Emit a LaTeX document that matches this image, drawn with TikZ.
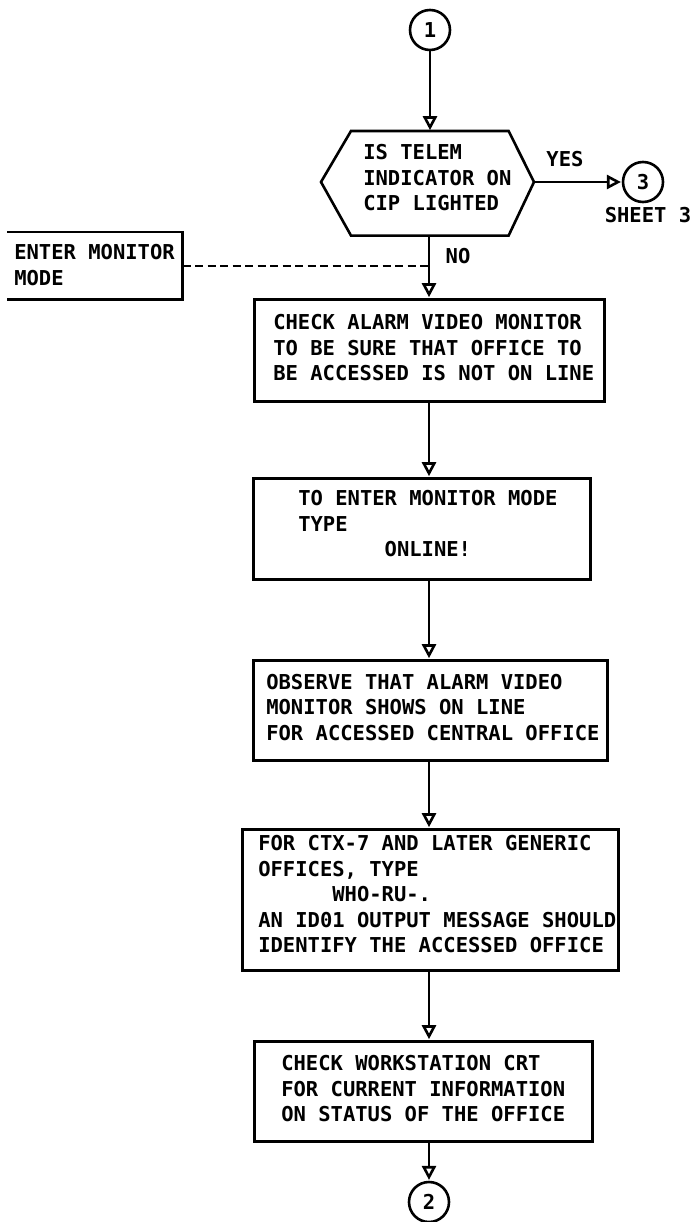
\documentclass[tikz,border=0pt]{standalone}
\usepackage{fontspec}
\newfontfamily\plotfont{DejaVu Sans Mono}
\usetikzlibrary{arrows.meta}

\tikzset{
  lbl/.style={font=\plotfont\bfseries\fontsize{20.5}{25.5}\selectfont, inner sep=0pt, align=left},
  stepbox/.style={draw, rectangle, inner sep=0pt, anchor=north west},
  conn/.style={circle, draw, minimum size=40pt, inner sep=0pt,
               font=\plotfont\bfseries\fontsize{20.5}{25.5}\selectfont},
  flow/.style={-{Triangle[open, length=14pt, width=14pt, line width=2.6pt]}, shorten >=0.8pt},
  link/.style={dashed, dash pattern=on 8pt off 4.5pt, line width=2.2pt}
}

\begin{document}
\begin{tikzpicture}[x=1pt, y=-1pt, line width=2.6pt]
  \useasboundingbox (0,0) rectangle (694,1222);
  \fill[white] (0,0) rectangle (694,1222);

  \coordinate (sp) at (429,0);

  % off-page connector at the top
  \node[conn] (c1) at (430,30) {1};

  % decision
  \node[rectangle, minimum width=155pt, minimum height=102pt, inner sep=0pt, anchor=north west]
        (hex) at (351,131) {};
  \coordinate (hexL) at (321,182);
  \coordinate (hexR) at (534,182);
  \draw[line join=miter] (hex.north west) -- (hex.north east) -- (hexR)
        -- (hex.south east) -- (hex.south west) -- (hexL) -- cycle;
  \node[lbl, anchor=west] (hext) at (362,178) {IS TELEM\\INDICATOR ON\\CIP LIGHTED};

  % yes branch
  \node[conn] (c3) at (643,182) {3};
  \node[lbl] (sheet) at (648,215) {SHEET 3};
  \node[lbl] (yes) at (565,159) {YES};
  \draw[flow] (hexR) -- (c3.west);

  % side note box (open on the left)
  \node[rectangle, minimum width=173pt, minimum height=65pt, inner sep=0pt, anchor=north west]
        (enter) at (7,232) {};
  \draw (enter.north west) -- (enter.north east) -- (enter.south east) -- (enter.south west);
  \node[lbl, anchor=west] (entert) at (13,265) {ENTER MONITOR\\MODE};

  % steps
  \node[stepbox, minimum width=350pt, minimum height=102pt] (b1) at (253,298) {};
  \node[lbl, anchor=west] (t1) at (272,348)
    {CHECK ALARM VIDEO MONITOR\\TO BE SURE THAT OFFICE TO\\BE ACCESSED IS NOT ON LINE};

  \node[stepbox, minimum width=337pt, minimum height=101pt] (b2) at (252,477) {};
  \node[lbl, anchor=west] (t2) at (297,524)
    {TO ENTER MONITOR MODE\\TYPE\\\phantom{0000000}ONLINE!};

  \node[stepbox, minimum width=354pt, minimum height=100pt] (b3) at (252,659) {};
  \node[lbl, anchor=west] (t3) at (265,707.5)
    {OBSERVE THAT ALARM VIDEO\\MONITOR SHOWS ON LINE\\FOR ACCESSED CENTRAL OFFICE};

  \node[stepbox, minimum width=376pt, minimum height=141pt] (b4) at (241,828) {};
  \node[lbl, anchor=west] (t4) at (257,894.5)
    {FOR CTX-7 AND LATER GENERIC\\OFFICES, TYPE\\\phantom{000000}WHO-RU-.\\AN ID01 OUTPUT MESSAGE SHOULD\\IDENTIFY THE ACCESSED OFFICE};

  \node[stepbox, minimum width=338pt, minimum height=100pt] (b5) at (253,1040) {};
  \node[lbl, anchor=west] (t5) at (280,1089)
    {CHECK WORKSTATION CRT\\FOR CURRENT INFORMATION\\ON STATUS OF THE OFFICE};

  % off-page connector at the bottom
  \node[conn] (c2) at (429,1202) {2};

  % connectors
  \draw[flow] (c1.south) -- (c1.south |- hex.north);
  \draw[flow] (hex.south -| sp) -- (b1.north -| sp);
  \node[lbl] (no) at (458,256) {NO};
  \draw[link] (enter.east) -- (enter.east -| sp);
  \draw[flow] (b1.south -| sp) -- (b2.north -| sp);
  \draw[flow] (b2.south -| sp) -- (b3.north -| sp);
  \draw[flow] (b3.south -| sp) -- (b4.north -| sp);
  \draw[flow] (b4.south -| sp) -- (b5.north -| sp);
  \draw[flow] (b5.south -| sp) -- (c2.north);
\end{tikzpicture}
\end{document}
